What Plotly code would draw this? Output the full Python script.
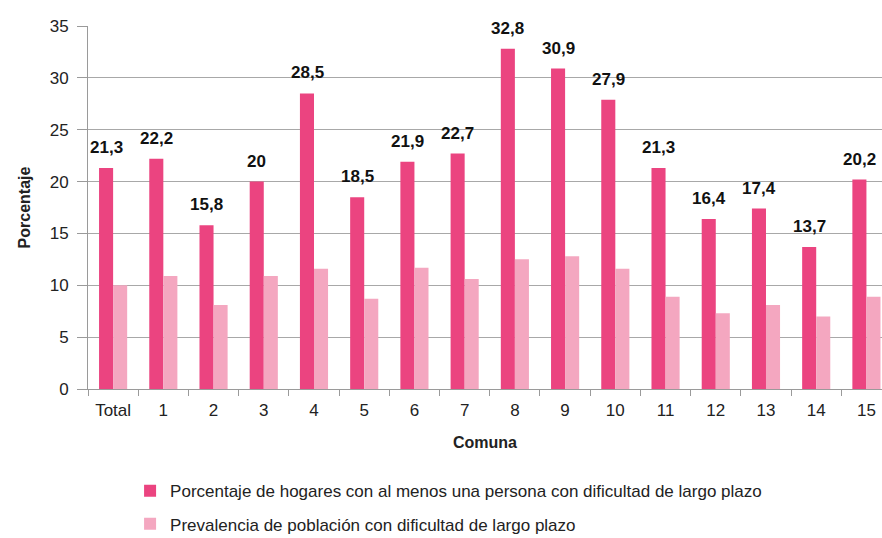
import plotly.graph_objects as go

categories = ["Total", "1", "2", "3", "4", "5", "6", "7", "8", "9", "10", "11", "12", "13", "14", "15"]
hogares = [21.3, 22.2, 15.8, 20, 28.5, 18.5, 21.9, 22.7, 32.8, 30.9, 27.9, 21.3, 16.4, 17.4, 13.7, 20.2]
prevalencia = [10.0, 10.9, 8.1, 10.9, 11.6, 8.7, 11.7, 10.6, 12.5, 12.8, 11.6, 8.9, 7.3, 8.1, 7.0, 8.9]
y_ticks = [0, 5, 10, 15, 20, 25, 30, 35]
name_hogares = "Porcentaje de hogares con al menos una persona con dificultad de largo plazo"
name_prev = "Prevalencia de población con dificultad de largo plazo"

def fmt(v):
    return str(int(v)) if float(v).is_integer() else f"{v:.1f}".replace(".", ",")

FONT = "Liberation Sans, Arial"

fig = go.Figure()
fig.add_trace(go.Bar(
    x=categories, y=hogares, name=name_hogares,
    marker=dict(color="#EB4480", line=dict(width=0)),
    legendgroup="a",
))
fig.add_trace(go.Bar(
    x=categories, y=prevalencia, name=name_prev,
    marker=dict(color="#F4A7C0", line=dict(width=0)),
    legendgroup="b",
))

for c, v in zip(categories, hogares):
    fig.add_annotation(
        x=c, y=v, text=f"<b>{fmt(v)}</b>", showarrow=False,
        xanchor="center", yanchor="bottom", xshift=-7, yshift=9,
        font=dict(family=FONT, size=17, color="#111111"),
    )

fig.update_layout(
    width=882, height=538,
    margin=dict(l=88, r=0, t=26, b=149, autoexpand=False),
    paper_bgcolor="white", plot_bgcolor="white",
    barmode="group", bargap=0.44, bargroupgap=0,
    font=dict(family=FONT, size=15, color="#222222"),
    showlegend=True,
    legend=dict(
        orientation="v", x=0.053, xanchor="left", y=-0.232, yanchor="top",
        font=dict(family=FONT, size=17, color="#222222"),
        tracegroupgap=8, itemwidth=30,
    ),
)
fig.update_xaxes(
    range=[-0.5, 15.31], automargin=False,
    showline=True, linecolor="#9a9a9a", linewidth=1,
    ticks="outside", tickson="boundaries", ticklen=6, tickcolor="#9a9a9a",
    ticklabelstandoff=6,
    tickfont=dict(family=FONT, size=17, color="#222222"),
    title=dict(text="<b>Comuna</b>", font=dict(family=FONT, size=16, color="#222222"), standoff=17),
    showgrid=False,
)
fig.update_yaxes(
    range=[0, 35], tickvals=y_ticks, automargin=False,
    showline=True, linecolor="#9a9a9a", linewidth=1,
    ticks="outside", ticklen=10, tickcolor="#9a9a9a",
    ticklabelstandoff=5,
    showgrid=True, gridcolor="#a8a8a8", gridwidth=1,
    tickfont=dict(family=FONT, size=17, color="#222222"),
    title=dict(text="<b>Porcentaje</b>", font=dict(family=FONT, size=16, color="#222222"), standoff=15),
    zeroline=False,
)

fig.write_html(
    "out.html",
    config={"displayModeBar": False},
    post_script="document.body.style.margin='0';document.body.style.overflow='hidden';",
)
